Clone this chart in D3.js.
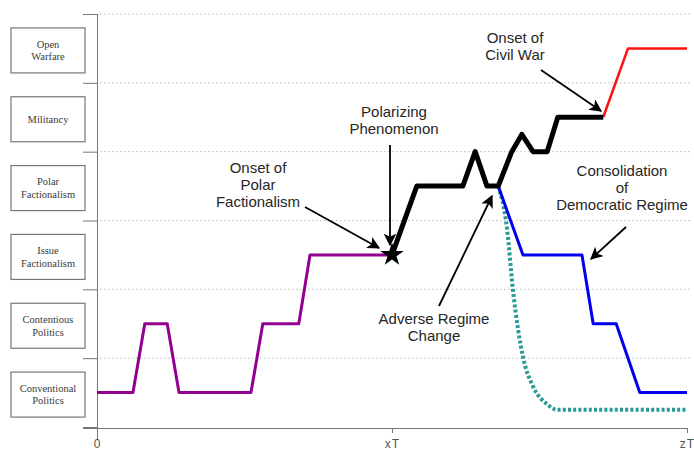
<!DOCTYPE html>
<html>
<head>
<meta charset="utf-8">
<script src="https://cdn.jsdelivr.net/npm/d3@7"></script>
<style>
  body { margin: 0; background: #fff; }
  svg { display: block; }
  .stage text { font-family: "Liberation Serif", "Times New Roman", serif; font-size: 10.5px; fill: #3a3a3a; }
  .note text { font-family: "Liberation Sans", Arial, sans-serif; font-size: 15px; fill: #262626; }
</style>
</head>
<body>
<div id="chart"></div>
<script>
// stages of conflict, bottom to top
const stages = [
  ['Conventional', 'Politics'],
  ['Contentious', 'Politics'],
  ['Issue', 'Factionalism'],
  ['Polar', 'Factionalism'],
  ['Militancy'],
  ['Open', 'Warfare']
];

// time ticks (0 .. 100 where xT = 50, zT = 100)
const timeTicks = [0, 50, 100];
const timeLabels = ['0', 'xT', 'zT'];

// each path: time values and stage level (0 = conventional politics)
const purpleT = [0, 6.1, 8.1, 11.9, 13.9, 26.1, 28.1, 34.2, 36.1, 50];
const purpleV = [0, 0, 1, 1, 0, 0, 1, 1, 2, 2];

const blackT = [50, 54.2, 62.0, 64.1, 66.1, 68.0, 70.3, 72.0, 73.9, 76.3, 78.1, 85.8];
const blackV = [2, 3, 3, 3.5, 3, 3, 3.5, 3.75, 3.5, 3.5, 4, 4];

const redT = [85.8, 90, 100];
const redV = [4, 5, 5];

const blueT = [68, 72.2, 82.2, 84.1, 88, 92, 100];
const blueV = [3, 2, 2, 1, 1, 0, 0];

const tealT = [68, 69.5, 70.5, 72.2, 73.9, 76.3, 78, 100];
const tealV = [3, 2.38, 1.49, 0.52, 0.09, -0.17, -0.25, -0.25];

const starT = 50;
const starV = 2;

function init(elem) {
  const width = 694;
  const height = 453;
  const svg = d3.select(elem)
    .append('svg')
    .attr('width', width)
    .attr('height', height);

  const x = d3.scaleLinear().domain([0, 100]).range([97, 687]);
  // band boundaries
  const yB = d3.scaleLinear().domain([0, stages.length]).range([427, 14]);
  const y = v => yB(v + 0.5);

  // dotted gridlines at band boundaries
  svg.append('g')
    .selectAll('line')
    .data(d3.range(1, stages.length + 1))
    .enter()
    .append('line')
    .attr('x1', 100)
    .attr('x2', 690)
    .attr('y1', d => yB(d))
    .attr('y2', d => yB(d))
    .attr('stroke', '#bbb')
    .attr('stroke-width', 1)
    .attr('stroke-dasharray', '1.5,2.5');

  // left axis with boundary ticks
  const yAxis = svg.append('g')
    .attr('transform', 'translate(97,0)')
    .call(d3.axisLeft(yB).tickValues(d3.range(0, stages.length + 1)).tickSize(14).tickFormat(''));
  yAxis.select('.domain').remove();
  yAxis.selectAll('line').attr('stroke', '#777');
  svg.append('line')
    .attr('x1', 97.5).attr('x2', 97.5)
    .attr('y1', 14).attr('y2', 440)
    .attr('stroke', '#777');

  // bottom axis
  const xAxis = svg.append('g')
    .attr('transform', 'translate(0,428)')
    .call(d3.axisBottom(x).tickValues(timeTicks).tickSize(5).tickFormat((d, i) => timeLabels[i]));
  xAxis.select('.domain').remove();
  xAxis.selectAll('line').attr('stroke', '#777');
  xAxis.selectAll('text')
    .attr('dy', '1.0em')
    .attr('fill', '#555')
    .style('font-family', '"Liberation Sans", Arial, sans-serif')
    .style('font-size', '12px')
    .style('letter-spacing', '1px');
  svg.append('line')
    .attr('x1', 83).attr('x2', 687)
    .attr('y1', 428.5).attr('y2', 428.5)
    .attr('stroke', '#777');

  // stage label boxes
  const boxes = svg.append('g').attr('class', 'stage')
    .selectAll('g')
    .data(stages)
    .enter()
    .append('g')
    .attr('transform', (d, i) => 'translate(11,' + (y(i) - 20.5) + ')');
  boxes.append('rect')
    .attr('width', 74)
    .attr('height', 45)
    .attr('fill', '#fff')
    .attr('stroke', '#777')
    .attr('stroke-width', 1.2);
  boxes.append('text')
    .attr('text-anchor', 'middle')
    .selectAll('tspan')
    .data(d => d.map((s, i) => ({ s: s, i: i, n: d.length })))
    .enter()
    .append('tspan')
    .attr('x', 37)
    .attr('y', d => 22.5 + (d.i - (d.n - 1) / 2) * 12.5 + 3.5)
    .text(d => d.s);

  const line = d3.line()
    .x(d => x(d[0]))
    .y(d => y(d[1]));
  const zip = (t, v) => t.map((d, i) => [d, v[i]]);

  function drawPath(t, v, color, w, dash, curve) {
    svg.append('path')
      .datum(zip(t, v))
      .attr('d', curve ? line.curve(curve) : line.curve(d3.curveLinear))
      .attr('fill', 'none')
      .attr('stroke', color)
      .attr('stroke-width', w)
      .attr('stroke-linejoin', 'round')
      .attr('stroke-dasharray', dash || null);
  }

  drawPath(tealT, tealV, '#2a9a96', 4, '3,2.2', d3.curveMonotoneX);
  drawPath(blueT, blueV, '#0000ee', 3);
  drawPath(purpleT, purpleV, '#920092', 3);
  drawPath(redT, redV, '#ff1010', 2.5);
  drawPath(blackT, blackV, '#000', 5);

  svg.append('path')
    .attr('d', d3.symbol().type(d3.symbolStar).size(170)())
    .attr('transform', 'translate(' + x(starT) + ',' + y(starV) + ')')
    .attr('fill', '#000');

  // annotations with arrows
  const notes = [
    { lines: ['Polarizing', 'Phenomenon'], cx: 394, cy: 112, from: [390, 145], to: [390, 245] },
    { lines: ['Onset of', 'Polar', 'Factionalism'], cx: 258, cy: 168, from: [305, 207], to: [379, 248] },
    { lines: ['Adverse Regime', 'Change'], cx: 434, cy: 319, from: [439, 306], to: [492, 196] },
    { lines: ['Consolidation', 'of', 'Democratic Regime'], cx: 622, cy: 171, from: [626, 227], to: [591, 259] },
    { lines: ['Onset of', 'Civil War'], cx: 515, cy: 38, from: [541, 70], to: [601, 111] }
  ];

  svg.append('defs').append('marker')
    .attr('id', 'head')
    .attr('viewBox', '0 0 10 10')
    .attr('refX', 9)
    .attr('refY', 5)
    .attr('markerWidth', 7)
    .attr('markerHeight', 7)
    .attr('markerUnits', 'strokeWidth')
    .attr('orient', 'auto')
    .append('path')
    .attr('d', 'M0,0 L10,5 L0,10 L2.5,5 Z')
    .attr('fill', '#000');

  const note = svg.append('g').attr('class', 'note')
    .selectAll('g')
    .data(notes)
    .enter()
    .append('g');
  note.append('line')
    .attr('x1', d => d.from[0]).attr('y1', d => d.from[1])
    .attr('x2', d => d.to[0]).attr('y2', d => d.to[1])
    .attr('stroke', '#000')
    .attr('stroke-width', 1.8)
    .attr('marker-end', 'url(#head)');
  note.append('text')
    .attr('text-anchor', 'middle')
    .selectAll('tspan')
    .data(d => d.lines.map((s, i) => ({ s: s, x: d.cx, y: d.cy + i * 17 })))
    .enter()
    .append('tspan')
    .attr('x', d => d.x)
    .attr('y', d => d.y + 5)
    .text(d => d.s);
}

init(document.getElementById('chart'));
</script>
</body>
</html>
